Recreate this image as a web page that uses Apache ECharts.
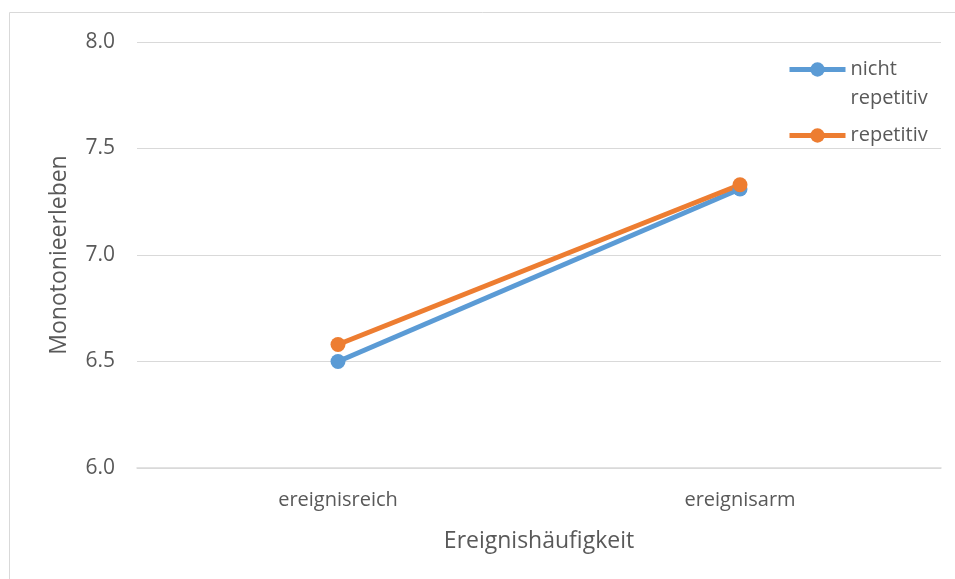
<!DOCTYPE html>
<html>
<head>
<meta charset="utf-8">
<script src="https://cdn.jsdelivr.net/npm/echarts@6/dist/echarts.min.js"></script>
<style>
  html, body { margin: 0; padding: 0; background: #fff; }
  #chart { width: 955px; height: 579px; }
</style>
</head>
<body>
<div id="chart"></div>
<script>
// Kategorien und Werte
const categories = ['ereignisreich', 'ereignisarm'];
const nichtRepetitiv = [6.50, 7.31];
const repetitiv = [6.58, 7.33];
const yTicks = { min: 6.0, max: 8.0, interval: 0.5 };

const FONT = '"Open Sans", "Noto Sans", sans-serif';
const TEXT = '#595959';

let myChart = echarts.init(document.getElementById('chart'));

myChart.setOption({
    animation: false,
    graphic: [{
        type: 'rect',
        shape: { x: 9.5, y: 12.5, width: 960, height: 600 },
        style: { fill: 'none', stroke: '#d9d9d9', lineWidth: 1 },
        silent: true
    }],
    grid: { left: 137, right: 14, top: 42, bottom: 111 },
    legend: {
        orient: 'vertical',
        left: 787,
        top: 26,
        padding: 0,
        itemWidth: 56,
        itemHeight: 18,
        itemGap: 8,
        lineStyle: { width: 5 },
        textStyle: { fontFamily: FONT, fontSize: 20, color: TEXT, lineHeight: 29 },
        // leere erste Zeile, damit das Symbol auf Höhe von "nicht" sitzt
        formatter: name => name === 'nicht repetitiv' ? ' \nnicht\nrepetitiv' : name,
        data: ['nicht repetitiv', 'repetitiv']
    },
    xAxis: {
        type: 'category',
        data: categories,
        boundaryGap: true,
        name: 'Ereignishäufigkeit',
        nameLocation: 'middle',
        nameGap: 62,
        nameTextStyle: { fontFamily: FONT, fontSize: 23, color: TEXT },
        axisLine: { lineStyle: { color: '#d9d9d9', width: 1.5 } },
        axisTick: { show: false },
        axisLabel: { fontFamily: FONT, fontSize: 20, color: TEXT, margin: 22 }
    },
    yAxis: {
        type: 'value',
        min: yTicks.min,
        max: yTicks.max,
        interval: yTicks.interval,
        name: 'Monotonieerleben',
        nameLocation: 'middle',
        nameGap: 66,
        nameTextStyle: { fontFamily: FONT, fontSize: 23, color: TEXT },
        axisLine: { show: false },
        axisTick: { show: false },
        axisLabel: {
            fontFamily: FONT, fontSize: 21, color: TEXT, margin: 22,
            formatter: v => v.toFixed(1)
        },
        splitLine: { lineStyle: { color: '#d9d9d9', width: 1 } }
    },
    series: [{
        name: 'nicht repetitiv',
        type: 'line',
        data: nichtRepetitiv,
        symbol: 'circle',
        symbolSize: 15,
        color: '#5B9BD5',
        lineStyle: { width: 5 }
    }, {
        name: 'repetitiv',
        type: 'line',
        data: repetitiv,
        symbol: 'circle',
        symbolSize: 15,
        color: '#ED7D31',
        lineStyle: { width: 5 }
    }]
});
</script>
</body>
</html>
